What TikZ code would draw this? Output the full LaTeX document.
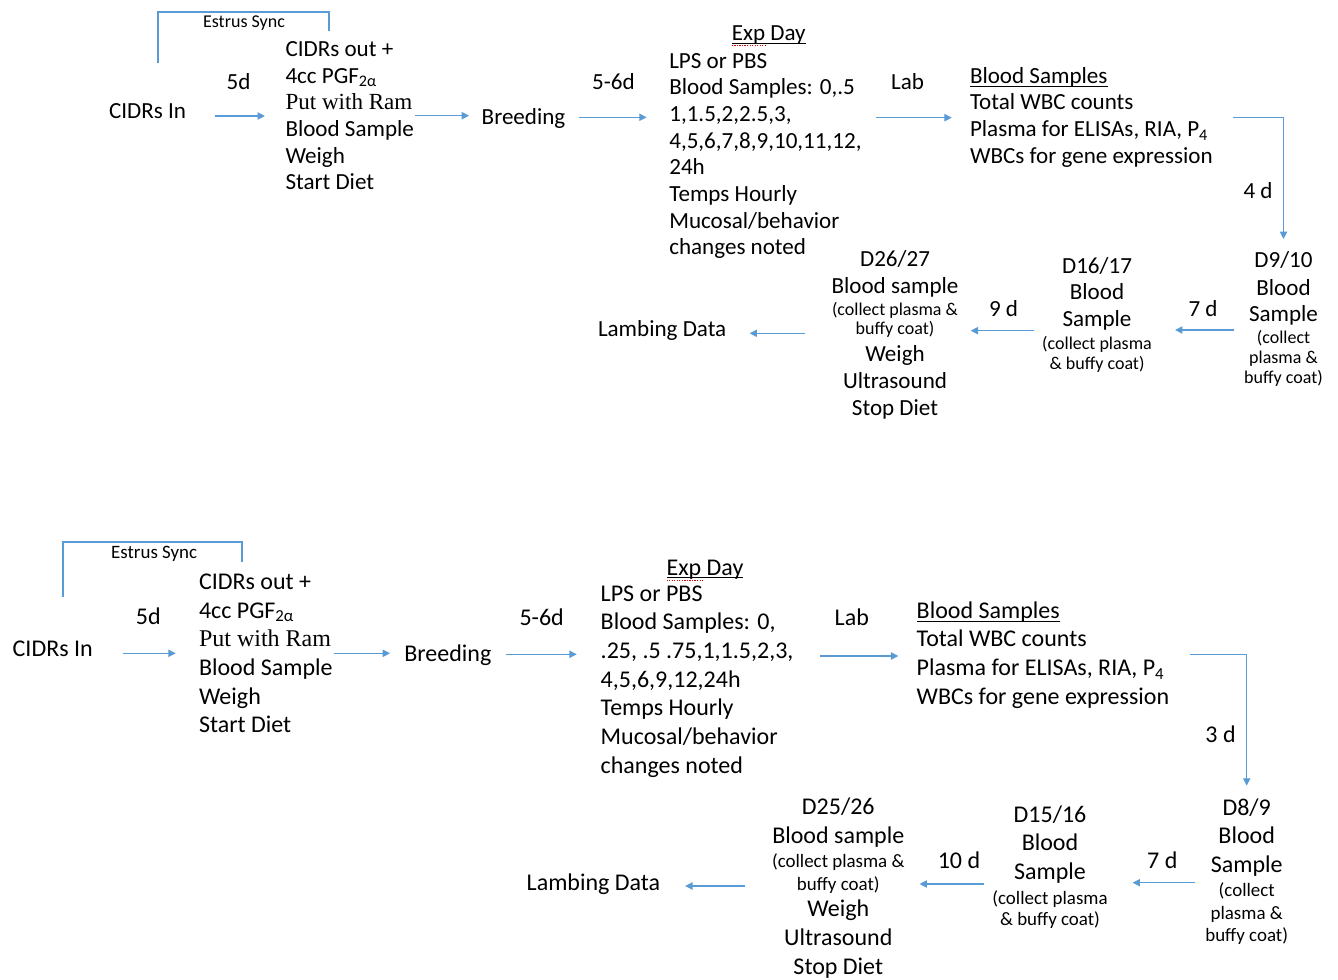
\documentclass[tikz,border=0pt]{standalone}
\usepackage{fontspec}
\setmainfont{Carlito}
\newfontfamily\timesfont{Liberation Serif}
\usetikzlibrary{arrows.meta}

\definecolor{flowblue}{RGB}{91,155,213}
\newcommand\wordline[1]{\setbox0=\hbox{#1}\rlap{\rule[-2.5pt]{\wd0}{0.75pt}}\box0}
\newcommand\smallT{\fontsize{13.5}{15}\selectfont}
\newcommand\smallB{\fontsize{14.2}{16.5}\selectfont}

\begin{document}
\begin{tikzpicture}[x=0.75pt,y=-0.75pt,
    every node/.style={inner sep=0pt,outer sep=0pt},
    mainT/.style={font=\fontsize{17.3}{20}\selectfont},
    mainB/.style={font=\fontsize{18}{21.5}\selectfont},
    lblock/.style={align=left,anchor=base west},
    cblock/.style={align=center,anchor=base},
    flow/.style={draw=flowblue,line width=0.8pt,-{Triangle[length=5.5pt,width=5.5pt]}},
    syncline/.style={draw=flowblue,line width=1.5pt},
    squiggle/.style={draw=red!85!black,densely dotted,line width=0.9pt}]
  \useasboundingbox (0,0) rectangle (1338,980);

  % top timeline (blocks sit on the baseline of their last line)
  \node[font=\smallT,anchor=base] (syncT) at (244,27.3) {Estrus Sync};
  \draw[syncline] (157.7,63.3) |- (328.7,12.3) -- (328.7,30.7);
  \node[mainT,anchor=base west] (cidrsT) at (109,119) {CIDRs In};
  \node[mainT,lblock] (listT) at (285.5,190)
    {CIDRs out +\\4cc PGF\textsubscript{2α}\\{\timesfont Put with Ram}\\Blood Sample\\Weigh\\Start Diet};
  \node[mainT,anchor=base west] (breedT) at (481.7,124.3) {Breeding};
  \node[mainT,anchor=base] (expT) at (768.7,40.7) {\wordline{Exp Day}};
  \draw[squiggle] ([shift={(0,5)}]expT.base west) -- ++(33,0);
  \node[mainT,lblock] (lpsT) at (669.3,255)
    {LPS or PBS\\Blood Samples: 0,.5\\1,1.5,2,2.5,3,\\4,5,6,7,8,9,10,11,12,\\24h\\Temps Hourly\\Mucosal/behavior\\changes noted};
  \node[mainT,lblock] (bloodT) at (970,163.3)
    {\wordline{Blood Samples}\\Total WBC counts\\Plasma for ELISAs, RIA, P\textsubscript{4}\\WBCs for gene expression};
  \node[mainT,cblock] (d9T) at (1283.5,383)
    {D9/10\\[1pt]Blood\\Sample\\[-4pt]\smallT(collect\\[-5pt]\smallT plasma \&\\[-5pt]\smallT buffy coat)};
  \node[mainT,cblock] (d16T) at (1097,370)
    {D16/17\\Blood\\Sample\\[-2.5pt]\smallT(collect plasma\\[-5pt]\smallT\& buffy coat)};
  \node[mainT,cblock] (d26T) at (895,415)
    {D26/27\\Blood sample\\[-3.3pt]\smallT(collect plasma \&\\[-5.5pt]\smallT buffy coat)\\Weigh\\Ultrasound\\Stop Diet};
  \node[mainT,anchor=base west] (lambT) at (598,336.7) {Lambing Data};

  \node[mainT,anchor=base] (gapT1) at (238.5,90) {5d};
  \node[mainT,anchor=base] (gapT2) at (613.5,90) {5-6d};
  \node[mainT,anchor=base] (gapT3) at (907.5,89.3) {Lab};
  \node[mainT,anchor=base] (gapT4) at (1258,198.3) {4 d};
  \node[mainT,anchor=base] (gapT5) at (1203,316.7) {7 d};
  \node[mainT,anchor=base] (gapT6) at (1003.5,316.7) {9 d};

  \draw[flow,shorten <=21.75pt,shorten >=15.4pt] (cidrsT.east |- 0,116) -- (listT.west |- 0,116);
  \draw[flow,shorten <=0.75pt,shorten >=9.5pt] (listT.east |- 0,115.7) -- (breedT.west |- 0,115.7);
  \draw[flow,shorten <=10.5pt,shorten >=17pt] (breedT.east |- 0,117.3) -- (lpsT.west |- 0,117.3);
  \draw[flow,shorten <=11.25pt,shorten >=13.7pt] (lpsT.east |- 0,117.7) -- (bloodT.west |- 0,117.7);
  \draw[flow,shorten <=15pt,shorten >=9pt] (bloodT.east |- 0,117.3) -| (d9T.north);
  \draw[flow,shorten <=7.5pt,shorten >=17.5pt] (d9T.west |- 0,330) -- (d16T.east |- 0,330);
  \draw[flow,shorten <=5.8pt,shorten >=9.2pt] (d16T.west |- 0,330.7) -- (d26T.east |- 0,330.7);
  \draw[flow,shorten <=20pt,shorten >=17.5pt] (d26T.west |- 0,333.3) -- (lambT.east |- 0,333.3);

  % bottom timeline
  \node[font=\smallB,anchor=base] (syncB) at (154.2,558.3) {Estrus Sync};
  \draw[syncline] (63.3,596.7) |- (242.3,541.7) -- (242.3,561.7);
  \node[mainB,anchor=base west] (cidrsB) at (12.7,656.7) {CIDRs In};
  \node[mainB,lblock] (listB) at (199,732.7)
    {CIDRs out +\\4cc PGF\textsubscript{2α}\\{\timesfont Put with Ram}\\Blood Sample\\Weigh\\Start Diet};
  \node[mainB,anchor=base west] (breedB) at (404.3,661.7) {Breeding};
  \node[mainB,anchor=base] (expB) at (705,575) {\wordline{Exp Day}};
  \draw[squiggle] ([shift={(0,5.5)}]expB.base west) -- ++(36,0);
  \node[mainB,lblock] (lpsB) at (600.7,773.3)
    {LPS or PBS\\Blood Samples: 0,\\.25, .5 .75,1,1.5,2,3,\\4,5,6,9,12,24h\\Temps Hourly\\Mucosal/behavior\\changes noted};
  \node[mainB,lblock] (bloodB) at (916.7,704.3)
    {\wordline{Blood Samples}\\Total WBC counts\\Plasma for ELISAs, RIA, P\textsubscript{4}\\WBCs for gene expression};
  \node[mainB,cblock] (d8B) at (1246.7,941.7)
    {D8/9\\Blood\\Sample\\[-3.5pt]\smallB(collect\\[-4.6pt]\smallB plasma \&\\[-4.6pt]\smallB buffy coat)};
  \node[mainB,cblock] (d15B) at (1050,925)
    {D15/16\\Blood\\Sample\\[-3pt]\smallB(collect plasma\\[-5.75pt]\smallB\& buffy coat)};
  \node[mainB,cblock] (d25B) at (838.3,974)
    {D25/26\\Blood sample\\[-3.5pt]\smallB(collect plasma \&\\[-4.5pt]\smallB buffy coat)\\[-1.5pt]Weigh\\Ultrasound\\Stop Diet};
  \node[mainB,anchor=base west] (lambB) at (526.7,890) {Lambing Data};

  \node[mainB,anchor=base] (gapB1) at (148.3,624) {5d};
  \node[mainB,anchor=base] (gapB2) at (541.7,625) {5-6d};
  \node[mainB,anchor=base] (gapB3) at (851.8,625) {Lab};
  \node[mainB,anchor=base] (gapB4) at (1220.5,742.7) {3 d};
  \node[mainB,anchor=base] (gapB5) at (1162.3,868.3) {7 d};
  \node[mainB,anchor=base] (gapB6) at (959,868.3) {10 d};

  \draw[flow,shorten <=22.5pt,shorten >=17.5pt] (cidrsB.east |- 0,653.3) -- (listB.west |- 0,653.3);
  \draw[flow,shorten <=0.75pt,shorten >=10.7pt] (listB.east |- 0,653.3) -- (breedB.west |- 0,653.3);
  \draw[flow,shorten <=11.25pt,shorten >=18pt] (breedB.east |- 0,654.3) -- (lpsB.west |- 0,654.3);
  \draw[flow,shorten <=20pt,shorten >=13.8pt] (lpsB.east |- 0,656) -- (bloodB.west |- 0,656);
  \draw[flow,shorten <=15.75pt,shorten >=9.75pt] (bloodB.east |- 0,654.3) -| (d8B.north);
  \draw[flow,shorten <=7.5pt,shorten >=18.75pt] (d8B.west |- 0,882.7) -- (d15B.east |- 0,882.7);
  \draw[flow,shorten <=6.2pt,shorten >=11.25pt] (d15B.west |- 0,884) -- (d25B.east |- 0,884);
  \draw[flow,shorten <=20.5pt,shorten >=18.75pt] (d25B.west |- 0,886) -- (lambB.east |- 0,886);
\end{tikzpicture}
\end{document}
